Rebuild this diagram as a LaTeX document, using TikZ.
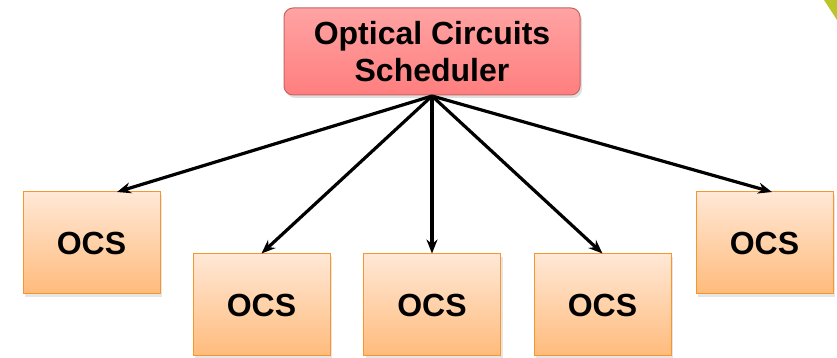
\documentclass[tikz,border=0pt]{standalone}
\usepackage{fontspec}
\setmainfont{Liberation Sans}
\usetikzlibrary{arrows.meta,shadows}
\definecolor{schedtop}{HTML}{FFA3A3}
\definecolor{schedbot}{HTML}{FF7E7E}
\definecolor{schededge}{HTML}{C86464}
\definecolor{ocstop}{HTML}{FFE8D6}
\definecolor{ocsbot}{HTML}{FFBB7C}
\definecolor{ocsedge}{HTML}{F7962E}
\definecolor{cornergreen}{HTML}{B9C52A}
\tikzset{
  sched/.style={draw=schededge, line width=1pt, rounded corners=9pt,
    top color=schedtop, bottom color=schedbot,
    minimum width=296pt, minimum height=87pt, align=center,
    font=\fontsize{32}{37}\selectfont\bfseries,
    drop shadow={opacity=0.25, shadow xshift=2pt, shadow yshift=-3pt}},
  ocsbox/.style={draw=ocsedge, line width=1pt,
    top color=ocstop, bottom color=ocsbot,
    minimum width=137pt, minimum height=102pt,
    font=\fontsize{32}{36}\selectfont\bfseries,
    drop shadow={opacity=0.2, shadow xshift=2pt, shadow yshift=-3pt}},
  link/.style={-{Stealth[length=14pt,width=11pt]}, line width=3.2pt, black}
}
\begin{document}
\begin{tikzpicture}[x=1pt,y=1pt]
  \useasboundingbox (0,0) rectangle (837,358);
  % corner accent
  \fill[cornergreen] (824,358) -- (837,358) -- (837,338) -- cycle;
  % scheduler
  \node[sched] (s) at (432,306.5) {Optical Circuits\\Scheduler};
  % switches
  \node[ocsbox] (o1) at (91.5,115) {OCS};
  \node[ocsbox] (o2) at (261.5,53) {OCS};
  \node[ocsbox] (o3) at (432,53) {OCS};
  \node[ocsbox] (o4) at (602.5,53) {OCS};
  \node[ocsbox] (o5) at (764.5,115) {OCS};
  \coordinate (hub) at (432,262);
  \coordinate (t1) at (117,166);
  \coordinate (t5) at (772,166);
  \draw[link] (hub) -- (t1);
  \draw[link] (hub) -- (o2.north);
  \draw[link] (hub) -- (o3.north);
  \draw[link] (hub) -- (o4.north);
  \draw[link] (hub) -- (t5);
\end{tikzpicture}
\end{document}
